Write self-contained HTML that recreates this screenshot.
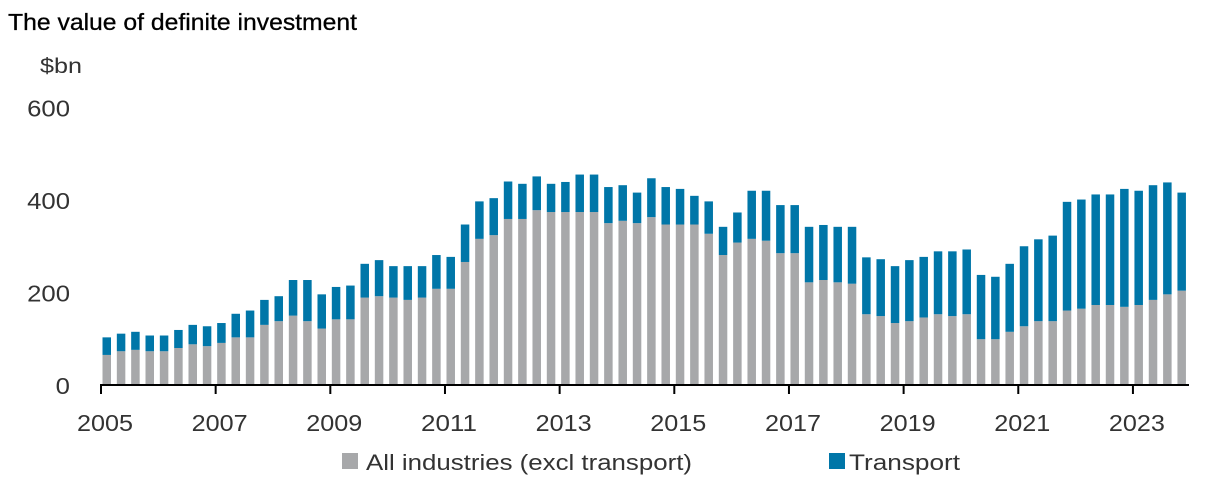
<!DOCTYPE html>
<html><head><meta charset="utf-8"><style>
html,body{margin:0;padding:0;background:#fff;}
svg{display:block;font-family:"Liberation Sans",sans-serif;}
</style></head><body>
<svg id="chart" width="1211" height="497" viewBox="0 0 1211 497">
<text x="8" y="30" font-size="23" fill="#000" stroke="#000" stroke-width="0.3" textLength="349" lengthAdjust="spacingAndGlyphs">The value of definite investment</text>
<text x="40" y="73" font-size="21" fill="#333" textLength="42" lengthAdjust="spacingAndGlyphs">$bn</text>
<g id="yticks"></g>
<g id="bars"></g>
<line x1="100" y1="385" x2="1189" y2="385" stroke="#000" stroke-width="2"/>
<g id="xticks"></g>
<rect x="342" y="453" width="16" height="16" fill="#a7a8aa"/>
<text x="366" y="470" font-size="22" fill="#333" textLength="326" lengthAdjust="spacingAndGlyphs">All industries (excl transport)</text>
<rect x="829" y="453" width="16" height="16" fill="#0076a8"/>
<text x="849" y="470" font-size="22" fill="#333" textLength="111" lengthAdjust="spacingAndGlyphs">Transport</text>
</svg>
<script>
const totals=[103,111,115,107,107,119,130,127,134,154,161,184,192,227,227,196,212,215,262,270,257,257,257,281,277,
347,397,404,440,435,451,435,439,455,455,428,432,416,447,428,424,409,397,342,373,420,420,389,389,342,346,
342,342,276,272,257,270,277,289,289,293,238,234,262,300,315,323,396,401,412,412,424,420,432,438,416];
const allIndustries=[65,73,76,73,73,80,88,84,91,103,103,130,138,150,138,122,142,142,189,192,189,184,189,208,208,
266,316,324,359,359,378,374,374,374,374,350,355,350,363,347,347,347,327,281,308,316,312,285,285,222,227,
222,219,153,149,134,138,146,153,149,153,99,99,115,127,138,138,161,165,173,173,169,173,184,196,204];
const transport=totals.map((t,i)=>t-allIndustries[i]);
const yTicks=[0,200,400,600];
const years=[2005,2007,2009,2011,2013,2015,2017,2019,2021,2023];
const startYear=2005;
const NS="http://www.w3.org/2000/svg";
const y0=385, pxPer=0.4625;
const yScale=v=>y0-v*pxPer;
const xYear=yr=>101+(yr-startYear)*57.33;
const xBar=i=>xYear(startYear+i/4)+1.5;
const bw=8.5;
const bars=document.getElementById('bars');
function mk(tag,attrs){const e=document.createElementNS(NS,tag);for(const k in attrs)e.setAttribute(k,attrs[k]);return e;}
allIndustries.forEach((v,i)=>{
  const x=xBar(i);
  const g=mk('rect',{x:x,y:yScale(v),width:bw,height:v*pxPer,fill:'#a7a8aa'});
  
  
  bars.appendChild(g);
  const tv=transport[i];
  const b=mk('rect',{x:x,y:yScale(v+tv),width:bw,height:tv*pxPer,fill:'#0076a8'});
  
  
  bars.appendChild(b);
});
const yt=document.getElementById('yticks');
yTicks.forEach(v=>{
  const s=String(v);
  const w=s.length*14.3;
  const t=mk('text',{x:70-w,y:yScale(v)+9,'font-size':23,fill:'#333',textLength:w,lengthAdjust:'spacingAndGlyphs'});
  t.textContent=s;
  
  
  yt.appendChild(t);
});
const xt=document.getElementById('xticks');
years.forEach(yr=>{
  const x=xYear(yr);
  const l=mk('line',{x1:x,y1:385,x2:x,y2:394,stroke:'#000','stroke-width':2});
  
  
  xt.appendChild(l);
  const t=mk('text',{x:x+4-28,y:431,'font-size':23,fill:'#333',textLength:56,lengthAdjust:'spacingAndGlyphs'});
  t.textContent=yr;
  
  
  xt.appendChild(t);
});
</script>
</body></html>
